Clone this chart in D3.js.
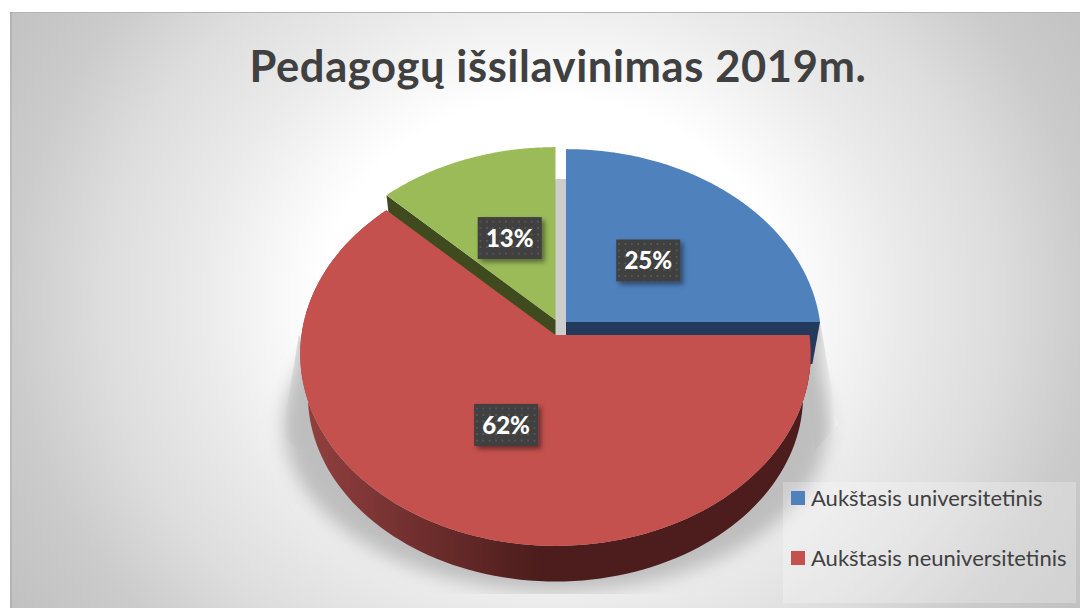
<!DOCTYPE html>
<html>
<head>
<meta charset="utf-8">
<script src="https://cdnjs.cloudflare.com/ajax/libs/d3/7.8.5/d3.min.js"></script>
<style>
  html, body { margin: 0; padding: 0; background: #fff; }
  svg { display: block; }
  text { font-family: Lato, "Open Sans", sans-serif; }
</style>
</head>
<body>
<div id="chart"></div>
<script>
// data
const categories = ["Aukštasis universitetinis", "Aukštasis neuniversitetinis", "Trečia grupė"];
const values = [25, 62.4, 12.6];
const colors = ["#4f81bd", "#c4514e", "#9bbb59"];
const wallColors = ["#233a5c", "url(#redWall)", "#3f4b1e"];
const legendItems = [0, 1];

const titleText = "Pedagogų išsilavinimas 2019m.";

let w = 1080;
let h = 609;

let svg = d3.select("#chart").append("svg")
  .attr("width", w)
  .attr("height", h);

let defs = svg.append("defs");

// background gradient, t = distance / 540 along x
let bg = defs.append("radialGradient")
  .attr("id", "bg")
  .attr("gradientUnits", "userSpaceOnUse")
  .attr("cx", 0).attr("cy", 0).attr("r", 1)
  .attr("gradientTransform", "translate(550,300) scale(648,576)");
[[0, "#ffffff"], [0.42, "#ffffff"], [0.5, "#f8f8f8"], [0.65, "#eaeaea"], [0.83, "#dddddd"], [1, "#cbcbcb"], [1.2, "#c0c0c0"]]
  .forEach(s => bg.append("stop").attr("offset", s[0] / 1.2).attr("stop-color", s[1]));

let redWall = defs.append("linearGradient")
  .attr("id", "redWall")
  .attr("gradientUnits", "userSpaceOnUse")
  .attr("x1", 300).attr("x2", 540).attr("y1", 0).attr("y2", 0);
redWall.append("stop").attr("offset", 0).attr("stop-color", "#934040");
redWall.append("stop").attr("offset", 1).attr("stop-color", "#4c1d1c");

// shadow slivers next to the pie
function sideGradient(id, x1, x2, from) {
  let g = defs.append("linearGradient")
    .attr("id", id)
    .attr("gradientUnits", "userSpaceOnUse")
    .attr("x1", x1).attr("x2", x2).attr("y1", 0).attr("y2", 0);
  g.append("stop").attr("offset", 0).attr("stop-color", from);
  g.append("stop").attr("offset", 1).attr("stop-color", "#c6c6c6");
}
sideGradient("shadowLeft", 282, 308, "#f3f3f3");
sideGradient("shadowRight", 838, 812, "#fafafa");

defs.append("filter").attr("id", "blur")
  .attr("x", "-20%").attr("y", "-20%").attr("width", "140%").attr("height", "140%")
  .append("feGaussianBlur").attr("stdDeviation", 9);

defs.append("clipPath").attr("id", "shadowClip")
  .append("rect").attr("x", 10).attr("y", 12).attr("width", 1070).attr("height", 582);

let ds = defs.append("filter").attr("id", "labelShadow")
  .attr("x", "-30%").attr("y", "-30%").attr("width", "170%").attr("height", "170%");
ds.append("feDropShadow")
  .attr("dx", 3).attr("dy", 3).attr("stdDeviation", 2.5)
  .attr("flood-color", "#000").attr("flood-opacity", 0.45);

let dots = defs.append("pattern").attr("id", "dots")
  .attr("patternUnits", "userSpaceOnUse")
  .attr("width", 6.4).attr("height", 6.4);
dots.append("rect").attr("width", 6.4).attr("height", 6.4).attr("fill", "#3f3f3f");
dots.append("rect").attr("x", 2).attr("y", 2).attr("width", 1.6).attr("height", 1.6).attr("fill", "#5f5f5f");

// background panel
svg.append("rect")
  .attr("x", 10).attr("y", 12).attr("width", 1070).attr("height", 596)
  .attr("fill", "url(#bg)");
svg.append("rect").attr("x", 10).attr("y", 12).attr("width", 1070).attr("height", 1).attr("fill", "#b4b4b4");
svg.append("rect").attr("x", 10).attr("y", 12).attr("width", 2).attr("height", 596).attr("fill", "#000").attr("fill-opacity", 0.07);

// perspective pie projection, angle clockwise from top
const R = 254, S = 190, P = 0.099, depth = 42, shrink = 0.97;
function project(a, center, scale, k) {
  let den = 1 + P * Math.cos(a);
  return [
    center[0] + R * scale * k * Math.sin(a) / den,
    center[1] - S * scale * k * Math.cos(a) / den
  ];
}
function rim(a0, a1, center, scale) {
  return d3.range(0, 121).map(i => project(a0 + (a1 - a0) * i / 120, center, scale, 1));
}

let line = d3.line();
let pie = d3.pie().sort(null).value(d => d)(values);

// exploded slice centres and label distance from them
const centers = [[566, 322], [555.5, 335], [555.5, 320]];
const labelRadius = [0.49, 0.465, 0.51];

// pie shadow on the wall
let shadowG = svg.append("g").attr("clip-path", "url(#shadowClip)");
shadowG.append("path")
  .attr("d", line([[299, 335], [282, 436], [300, 450], [322, 380]]) + "Z")
  .attr("fill", "url(#shadowLeft)");
shadowG.append("path")
  .attr("d", line([[820, 322], [838, 425], [815, 450], [800, 340]]) + "Z")
  .attr("fill", "url(#shadowRight)");
shadowG.append("ellipse")
  .attr("cx", 556).attr("cy", 426).attr("rx", 272).attr("ry", 166)
  .attr("fill", "#bebebe")
  .attr("filter", "url(#blur)");
shadowG.append("rect")
  .attr("x", 555).attr("y", 179).attr("width", 12).attr("height", 157)
  .attr("fill", "#cdcdcd");

function bottomOf(c) { return [c[0], c[1] + depth]; }

function drawSlice(i) {
  let d = pie[i], c = centers[i], low = bottomOf(c);
  let g = svg.append("g");
  // outer side
  let outer = rim(d.startAngle, d.endAngle, c, 1);
  let lower = rim(d.startAngle, d.endAngle, low, shrink);
  let wall = [];
  if (i == 1) {
    wall = outer.concat(lower.slice().reverse());
  } else if (i == 0) {
    // front cut of the blue slice
    wall = [c, outer[outer.length - 1], lower[lower.length - 1], low];
  } else {
    // cut of the green slice, facing the red one
    wall = [c, outer[0], lower[0], low];
  }
  g.append("path")
    .attr("d", line(wall) + "Z")
    .attr("fill", wallColors[i]);
  // top
  g.append("path")
    .attr("d", line([c].concat(outer)) + "Z")
    .attr("fill", colors[i]);
}

[0, 2, 1].forEach(drawSlice);

// data labels
let fmt = d3.format(".0%");
let total = d3.sum(values);
pie.forEach((d, i) => {
  let mid = (d.startAngle + d.endAngle) / 2;
  let p = project(mid, centers[i], 1, labelRadius[i]);
  let g = svg.append("g").attr("transform", `translate(${p[0]},${p[1]})`);
  g.append("rect")
    .attr("x", -32).attr("y", -21).attr("width", 64).attr("height", 42)
    .attr("fill", "url(#dots)")
    .attr("filter", "url(#labelShadow)");
  g.append("text")
    .attr("text-anchor", "middle")
    .attr("y", 9)
    .attr("font-size", 24)
    .attr("font-weight", 900)
    .attr("fill", "#fff")
    .text(fmt(d.value / total));
});

// title
svg.append("text")
  .attr("x", 558).attr("y", 82)
  .attr("text-anchor", "middle")
  .attr("font-size", 43.5)
  .attr("letter-spacing", 0.6)
  .attr("font-weight", 700)
  .attr("fill", "#404040")
  .text(titleText);

// legend
svg.append("rect")
  .attr("x", 783).attr("y", 482).attr("width", 293).attr("height", 121)
  .attr("fill", "#fff").attr("fill-opacity", 0.25);
let rowY = d3.scalePoint().domain(legendItems).range([498, 558]);
legendItems.forEach(i => {
  svg.append("rect")
    .attr("x", 791).attr("y", rowY(i) - 7).attr("width", 14).attr("height", 14)
    .attr("fill", colors[i]);
  svg.append("text")
    .attr("x", 811).attr("y", rowY(i) + 8)
    .attr("font-size", 22)
    .attr("fill", "#404040")
    .text(categories[i]);
});
</script>
</body>
</html>
